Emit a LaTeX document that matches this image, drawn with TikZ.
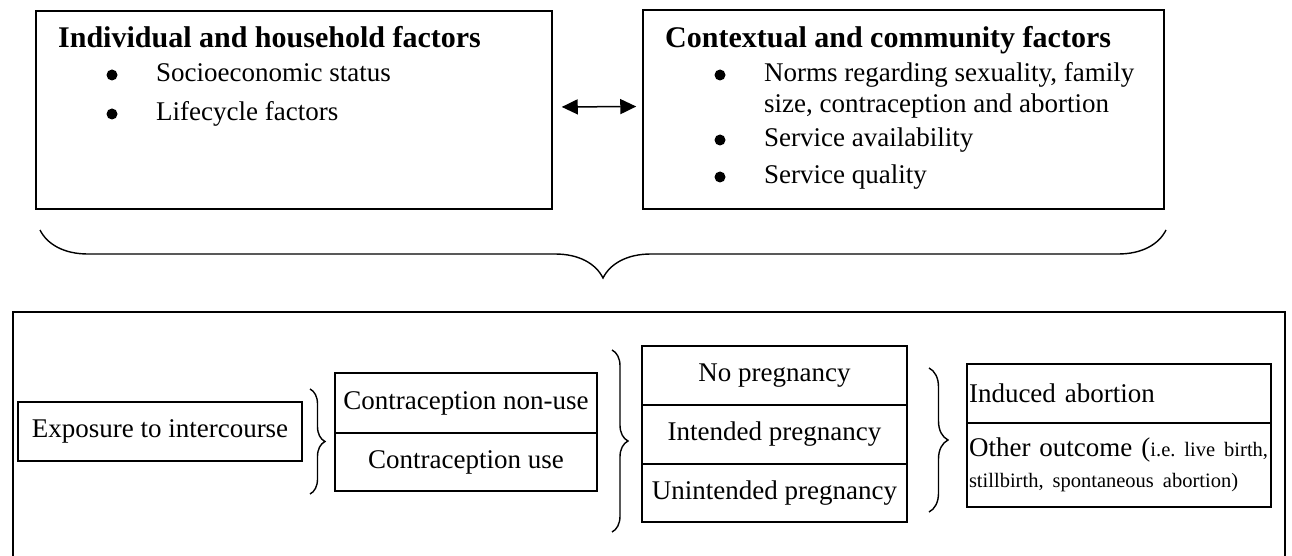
\documentclass[tikz,border=0pt]{standalone}
\usepackage{fontspec}
\setmainfont{Liberation Serif}
\usetikzlibrary{positioning,arrows.meta,decorations.pathreplacing}

\newcommand{\bodyfont}{\fontsize{27}{31}\selectfont}
\newcommand{\titlefont}{\fontsize{30}{34}\selectfont\bfseries}
\newcommand{\notefont}{\fontsize{20.5}{26}\selectfont}
\frenchspacing

\begin{document}
\begin{tikzpicture}[
    x=1pt, y=-1pt,
    every node/.style={font=\bodyfont},
    factorbox/.style={draw, line width=1.5pt},
    heading/.style={anchor=base west, font=\titlefont, inner sep=0pt},
    item/.style={anchor=base west, inner sep=0pt},
    dot/.style={circle, fill, inner sep=0pt, minimum size=11pt},
    cell/.style={draw, line width=1.5pt, outer sep=0pt, inner sep=2pt, align=center},
    curly/.style={decorate, line width=1.4pt, decoration={brace, amplitude=#1}}
]
    \useasboundingbox (0,0) rectangle (1292,556);

    \node[factorbox, minimum width=516pt, minimum height=198pt] (indiv) at (294,110) {};
    \node[factorbox, minimum width=521pt, minimum height=199pt] (context) at (903.5,109.5) {};
    \draw[line width=1.5pt, {Triangle[length=16pt,width=15pt]}-{Triangle[length=16pt,width=15pt]},
        shorten <=9pt, shorten >=6pt] ([yshift=3pt]indiv.east) -- ([yshift=3pt]context.west);

    \node[heading] (indiv-title) at (58,48) {Individual and household factors};
    \node[dot] (indiv-b1) at (112,75) {};
    \node[item] (indiv-t1) at (156,82) {Socioeconomic status};
    \node[dot] (indiv-b2) at (112,114) {};
    \node[item] (indiv-t2) at (156,121) {Lifecycle factors};

    \node[heading] (ctx-title) at (665,48) {Contextual and community factors};
    \node[dot] (ctx-b1) at (720,75) {};
    \node[item] (ctx-t1) at (764,82) {Norms regarding sexuality, family};
    \node[item] (ctx-t1b) at (764,113) {size, contraception and abortion};
    \node[dot] (ctx-b2) at (720,140) {};
    \node[item] (ctx-t2) at (764,147) {Service availability};
    \node[dot] (ctx-b3) at (720,177) {};
    \node[item] (ctx-t3) at (764,184) {Service quality};

    \coordinate (top-r) at (1166,230);
    \coordinate (top-l) at (40,230);
    \draw[curly=48pt] (top-r) -- (top-l);

    \draw[line width=1.5pt] (13,556) |- (1285,312) -- (1285,556);

    \node[cell, minimum width=284pt, minimum height=59pt] (expo) at (160,431.5) {Exposure to intercourse};
    \node[cell, minimum width=262pt, minimum height=60pt] (nonuse) at (466,403) {Contraception non-use};
    \node[cell, minimum width=262pt, minimum height=58pt, below=0pt of nonuse] (use) {Contraception use};
    \node[cell, minimum width=265pt, minimum height=59pt] (nopreg) at (774.5,375.5) {No pregnancy};
    \node[cell, minimum width=265pt, minimum height=59pt, below=0pt of nopreg] (intended) {Intended pregnancy};
    \node[cell, minimum width=265pt, minimum height=58pt, below=0pt of intended] (unintended) {Unintended pregnancy};
    \node[cell, text width=300pt, align=left, minimum height=59pt] (induced) at (1119,393.5) {Induced abortion};
    \node[cell, text width=300pt, align=left, minimum height=84pt, below=0pt of induced] (other)
        {\mbox{Other outcome (\notefont i.e. live birth,}\\ \mbox{\notefont stillbirth, spontaneous abortion)}};

    \coordinate (b1-top) at (310,389);
    \coordinate (b1-bot) at (310,494);
    \draw[curly=15pt] (b1-top) -- (b1-bot);
    \coordinate (b2-top) at (612,350);
    \coordinate (b2-bot) at (612,532);
    \draw[curly=16pt] (b2-top) -- (b2-bot);
    \coordinate (b3-top) at (929,368);
    \coordinate (b3-bot) at (929,512);
    \draw[curly=19pt] (b3-top) -- (b3-bot);
\end{tikzpicture}
\end{document}
